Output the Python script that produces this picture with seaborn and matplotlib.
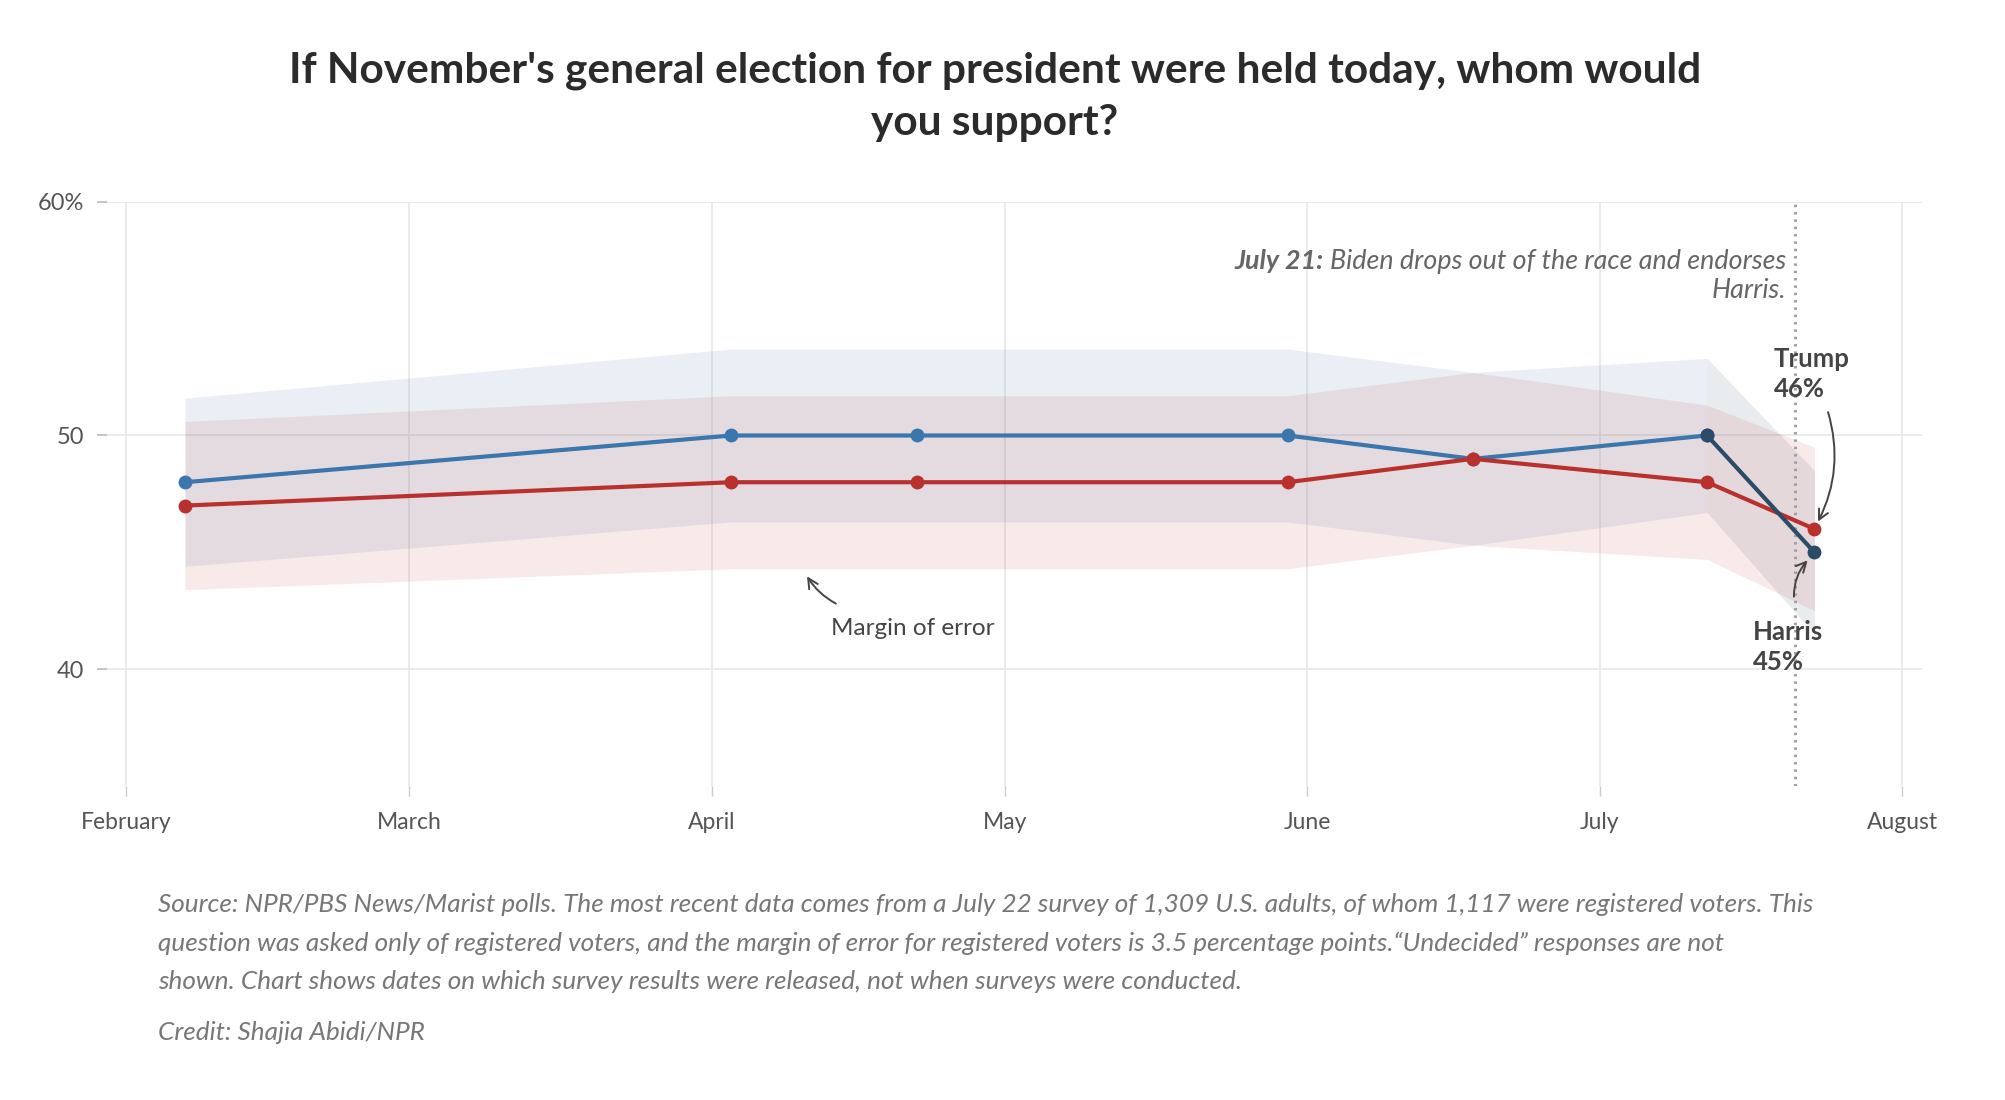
import numpy as np
import pandas as pd
import matplotlib.pyplot as plt
import seaborn as sns

# poll release dates and results (registered voters, %)
poll_dates = ['2024-02-07', '2024-04-03', '2024-04-22', '2024-05-30',
              '2024-06-18', '2024-07-12', '2024-07-23']
dem_values = [48, 50, 50, 50, 49, 50, 45]
trump_values = [47, 48, 48, 48, 49, 48, 46]
margin_of_error = [3.6, 3.7, 3.7, 3.7, 3.7, 3.3, 3.5]
dem_candidate = ['Biden', 'Biden', 'Biden', 'Biden', 'Biden', 'Biden', 'Harris']

month_ticks = ['2024-02-01', '2024-03-01', '2024-04-01', '2024-05-01',
               '2024-06-01', '2024-07-01', '2024-08-01']
month_labels = ['February', 'March', 'April', 'May', 'June', 'July', 'August']
y_ticks = [40, 50, 60]
y_labels = ['40', '50', '60%']
dropout_date = '2024-07-21'

BLUE = '#3b76ad'
NAVY = '#2c4b66'
RED = '#b8312f'

dates = pd.to_datetime(poll_dates)
dem = np.array(dem_values, dtype=float)
rep = np.array(trump_values, dtype=float)
moe = np.array(margin_of_error)

# long table for seaborn
biden_idx = [i for i, c in enumerate(dem_candidate) if c == 'Biden']
harris_idx = [biden_idx[-1]] + [i for i, c in enumerate(dem_candidate) if c == 'Harris']
rows = []
for i in biden_idx:
    rows.append(('Biden', dates[i], dem[i]))
for i in harris_idx:
    rows.append(('Harris', dates[i], dem[i]))
for i in range(len(dates)):
    rows.append(('Trump', dates[i], rep[i]))
df = pd.DataFrame(rows, columns=['candidate', 'date', 'value'])

sns.set_style('white')
plt.rcParams['font.family'] = ['Lato', 'DejaVu Sans']

fig = plt.figure(figsize=(20.06, 11), dpi=100)
ax = fig.add_axes([0.0533, 0.2855, 0.9047, 0.531])

# margin of error bands
bi = np.array(biden_idx)
ax.fill_between(dates[bi], dem[bi] - moe[bi], dem[bi] + moe[bi],
                color=BLUE, alpha=0.11, lw=0, zorder=1)
hi = np.array(harris_idx)
ax.fill_between(dates[hi], dem[hi] - moe[hi], dem[hi] + moe[hi],
                color=NAVY, alpha=0.1, lw=0, zorder=1)
ax.fill_between(dates, rep - moe, rep + moe, color=RED, alpha=0.1, lw=0, zorder=1)

sns.lineplot(data=df, x='date', y='value', hue='candidate',
             hue_order=['Biden', 'Trump', 'Harris'],
             palette={'Biden': BLUE, 'Harris': NAVY, 'Trump': RED},
             marker='o', markersize=10, markeredgewidth=0, linewidth=3,
             legend=False, ax=ax, zorder=4)

ax.axvline(pd.Timestamp(dropout_date), color='#a0a0a0', lw=2.2,
           ls=(0, (0.8, 1.6)), zorder=3)

ax.set_xlim(pd.Timestamp('2024-01-30'), pd.Timestamp('2024-08-03'))
ax.set_ylim(35, 60)
ax.set_xticks(pd.to_datetime(month_ticks))
ax.set_xticklabels(month_labels)
ax.set_yticks(y_ticks)
ax.set_yticklabels(y_labels)
ax.set_xlabel('')
ax.set_ylabel('')
ax.grid(True, color='#e8e8e8', lw=1.2, zorder=0)
for s in ax.spines.values():
    s.set_visible(False)
ax.tick_params(axis='x', bottom=True, length=7.5, width=1, color='#cccccc',
               labelsize=16.5, labelcolor='#555555', pad=11)
ax.tick_params(axis='y', left=True, length=7.5, width=1.2, color='#bbbbbb',
               labelsize=17, labelcolor='#555555', pad=9)

# title
fig.text(0.496, 0.912, "If November's general election for president were held today, whom would\nyou support?",
         ha='center', va='center', fontsize=30.5, fontweight='bold', color='#2b2b2b',
         linespacing=1.45)

# annotations
ann_x = pd.Timestamp(dropout_date) - pd.Timedelta(days=0.9)
t1 = ax.text(ann_x, 57.45, 'Biden drops out of the race and endorses',
             ha='right', va='center', fontsize=19.4, style='italic', color='#666666')
ax.text(ann_x, 56.2, 'Harris.', ha='right', va='center', fontsize=19.4,
        style='italic', color='#666666')
fig.canvas.draw()
bb = t1.get_window_extent()
x0 = ax.transData.inverted().transform((bb.x0 - 6, bb.y0))[0]
ax.text(x0, 57.45, 'July 21:', ha='right', va='center', fontsize=19.4,
        style='italic', fontweight='bold', color='#666666')

ax.text(0.444, 0.27, 'Margin of error', transform=ax.transAxes, ha='center',
        va='center', fontsize=17.5, color='#444444')
ax.annotate('', xy=(0.385, 0.363), xytext=(0.403, 0.31), xycoords='axes fraction',
            arrowprops=dict(arrowstyle='->', color='#444444', lw=1.4,
                            mutation_scale=18,
                            connectionstyle='arc3,rad=-0.15'))

last_x = pd.Timestamp(poll_dates[-1])
ax.text(last_x - pd.Timedelta(days=4.2), 52.64, 'Trump\n46%', ha='left', va='center',
        fontsize=18.5, fontweight='bold', color='#444444', linespacing=1.3)
ax.annotate('', xy=(last_x + pd.Timedelta(days=0.3), rep[-1] + 0.26),
            xytext=(last_x + pd.Timedelta(days=1.4), 51.0),
            arrowprops=dict(arrowstyle='->', color='#444444', lw=1.4,
                            mutation_scale=18, shrinkA=0, shrinkB=1,
                            connectionstyle='arc3,rad=-0.2'))
ax.text(last_x - pd.Timedelta(days=6.3), 40.93, 'Harris\n45%', ha='left', va='center',
        fontsize=18.5, fontweight='bold', color='#444444', linespacing=1.3)
ax.annotate('', xy=(last_x - pd.Timedelta(days=0.6), dem[-1] - 0.3),
            xytext=(last_x - pd.Timedelta(days=2.1), 43.1),
            arrowprops=dict(arrowstyle='->', color='#444444', lw=1.4,
                            mutation_scale=18, shrinkA=0, shrinkB=1,
                            connectionstyle='arc3,rad=-0.2'))

# footer
footer = ("Source: NPR/PBS News/Marist polls. The most recent data comes from a July 22 survey of 1,309 U.S. adults, of whom 1,117 were registered voters. This\n"
          "question was asked only of registered voters, and the margin of error for registered voters is 3.5 percentage points.\u201cUndecided\u201d responses are not\n"
          "shown. Chart shows dates on which survey results were released, not when surveys were conducted.")
fig.text(0.079, 0.1427, footer, ha='left', va='center', fontsize=18.8, style='italic',
         color='#777777', linespacing=1.78)
fig.text(0.079, 0.0618, 'Credit: Shajia Abidi/NPR', ha='left', va='center',
         fontsize=18.8, style='italic', color='#777777')

fig.savefig('out.png', dpi=100)
